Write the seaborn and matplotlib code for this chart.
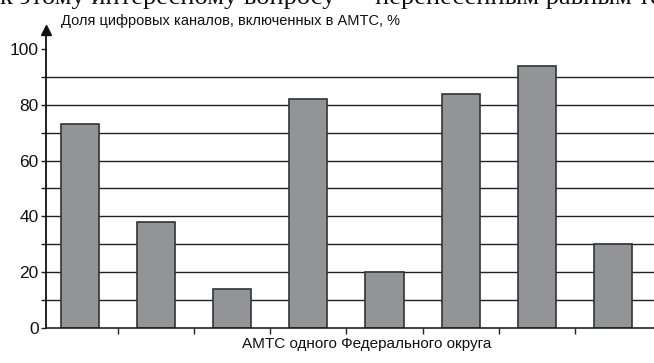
import pandas as pd
import matplotlib.pyplot as plt
import seaborn as sns

# Values
stations = ['1', '2', '3', '4', '5', '6', '7', '8']
digital_share = [73, 38, 14, 82, 20, 84, 94, 30]
ytick_vals = [0, 20, 40, 60, 80, 100]
grid_vals = [10, 20, 30, 40, 50, 60, 70, 80, 90]
y_title = 'Доля цифровых каналов, включенных в АМТС, %'
x_title = 'АМТС одного Федерального округа'
top_line = 'к этому интересному вопросу — перенесенным равным телефон'

df = pd.DataFrame({'station': stations, 'share': digital_share})

sns.set_style('white')
plt.rcParams['font.family'] = ['Liberation Sans', 'DejaVu Sans']

fig = plt.figure(figsize=(6.54, 3.63), dpi=100)
ax = fig.add_axes([46 / 654, 35 / 363, 608 / 654, 298 / 363])

for v in grid_vals:
    ax.axhline(v, color='#222222', lw=1.0, zorder=0)

sns.barplot(data=df, x='station', y='share', color='#939498', width=0.5,
            edgecolor='#333333', linewidth=1.2, saturation=1, ax=ax, zorder=2)

ax.set_xlim(-0.447, 7.54)
ax.set_ylim(0, 106.8)

# y axis ticks every 10, labels every 20
ax.set_yticks(list(range(0, 101, 10)))
ax.set_yticklabels([str(v) if v in ytick_vals else '' for v in range(0, 101, 10)],
                   fontsize=12.5, color='#111111')
ax.tick_params(axis='y', direction='out', length=3.8, width=1, color='#222222',
               left=True, pad=1.5)

# x axis: ticks between bars, no labels
ax.set_xticks([i + 0.5 for i in range(len(stations) - 1)])
ax.set_xticklabels([])
ax.tick_params(axis='x', direction='out', length=4.5, width=1, color='#222222',
               bottom=True)

for side in ['top', 'right']:
    ax.spines[side].set_visible(False)
ax.spines['left'].set_color('#111111')
ax.spines['left'].set_linewidth(1.3)
ax.spines['bottom'].set_color('#222222')
ax.spines['bottom'].set_linewidth(1.2)
ax.spines['left'].set_zorder(3)
ax.spines['bottom'].set_zorder(3)

ax.set_xlabel('')
ax.set_ylabel('')

# arrow at the top of the y axis
ax.plot(0, 1, marker='^', markersize=7, color='#111111',
        transform=ax.transAxes, clip_on=False, zorder=4)

fig.text(61 / 654, 1 - 21 / 363, y_title, fontsize=10.5, va='center', ha='left',
         color='#111111')
fig.text(367 / 654, 1 - 344 / 363, x_title, fontsize=11, va='center', ha='center',
         color='#111111')
fig.text(0, 1 - 4 / 363, top_line, fontsize=19, va='baseline', ha='left',
         family=['Liberation Serif', 'DejaVu Serif'], color='#111111')

fig.savefig('out.png', dpi=100)
